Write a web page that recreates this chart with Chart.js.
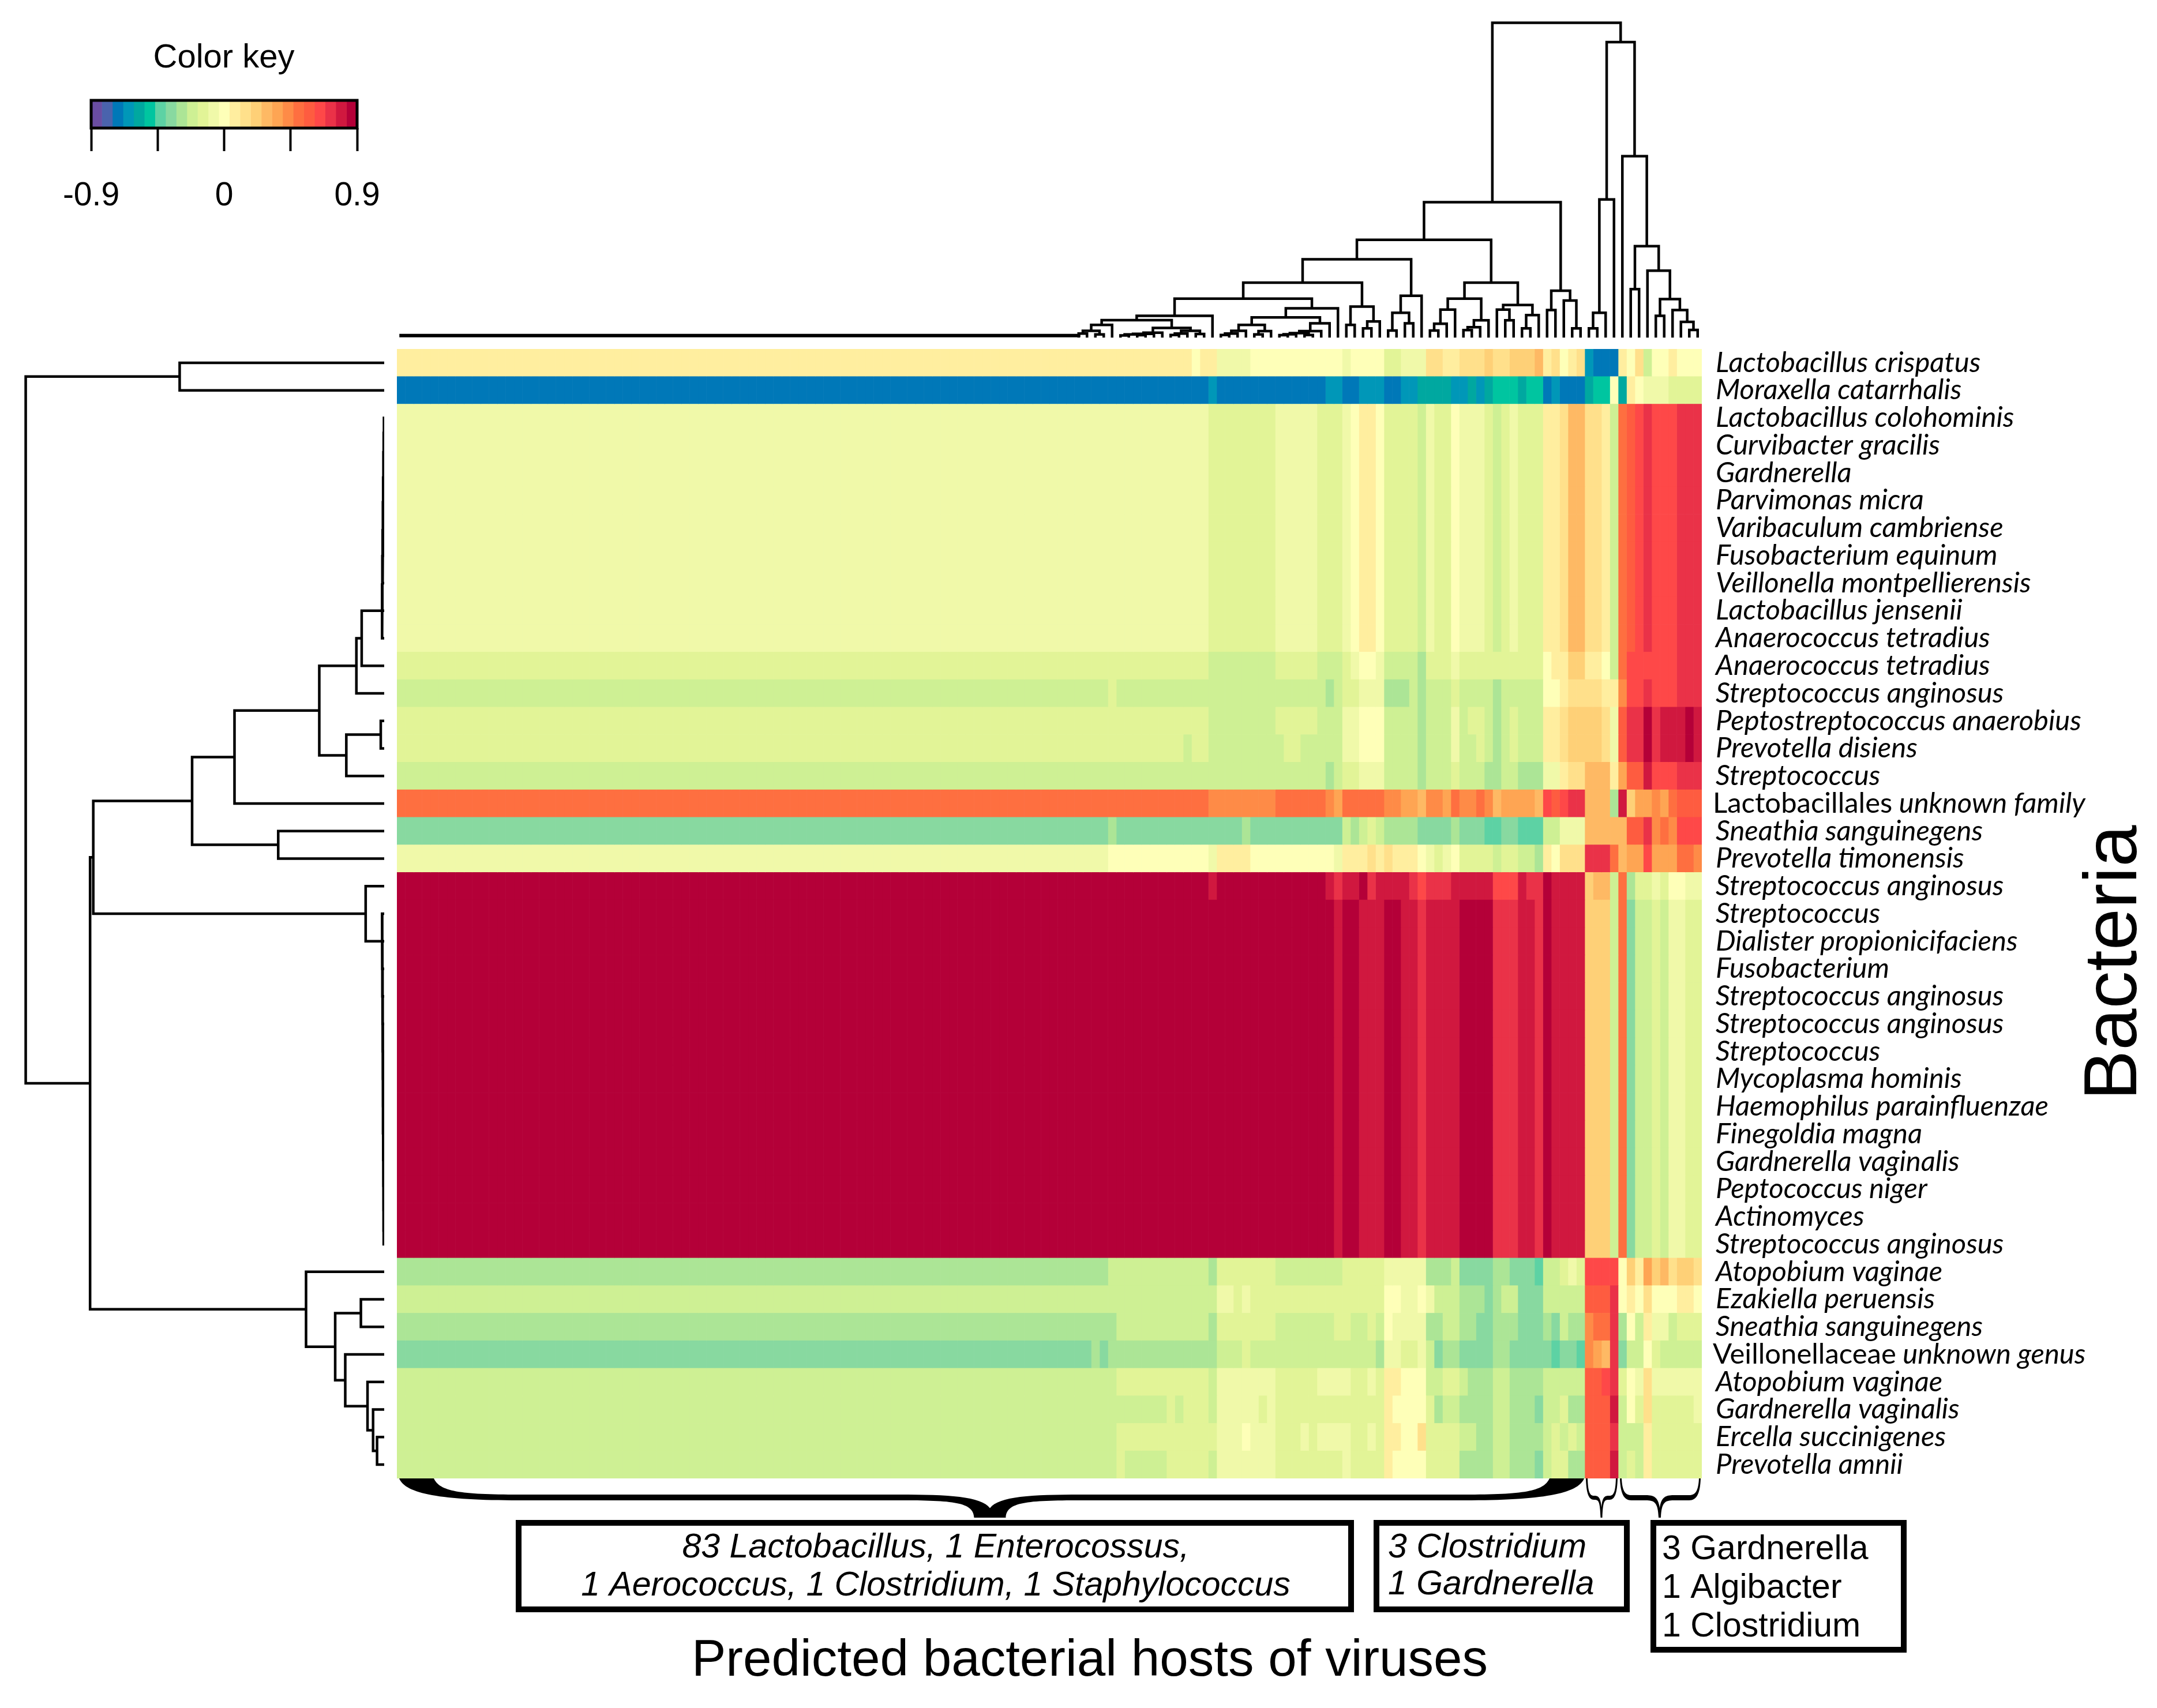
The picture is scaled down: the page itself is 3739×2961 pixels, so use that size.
<!DOCTYPE html>
<html><head><meta charset="utf-8">
<script src="https://cdn.jsdelivr.net/npm/chart.js@4/dist/chart.umd.min.js"></script>
<style>html,body{margin:0;padding:0;background:#fff;width:3739px;height:2961px;overflow:hidden}canvas{position:absolute;display:block}</style>
</head><body>
<canvas id="heat" width="3739" height="2961" style="left:0;top:0"></canvas>
<canvas id="colDendro" width="2262" height="600" style="left:688px;top:0"></canvas>
<canvas id="rowDendro" width="666" height="1958" style="left:0;top:605px"></canvas>
<canvas id="key" width="720" height="380" style="left:0;top:0"></canvas>
<script>
// ---------- colour key ----------
const keyColors=['#6a4da3','#4a63ad','#0078b8','#0097b8','#00a8a0','#00c5a0','#5dd2a4','#88d9a0','#ace596','#cef094','#e2f497','#f0f9a9','#feffb8','#ffee9f','#ffe08b','#fed077','#feb964','#fea553','#fe8b47','#fe6f40','#fe5c40','#fe4848','#ea3248','#d0183f','#b40038'];
const keyEdges=[-0.9,-0.828,-0.756,-0.684,-0.612,-0.54,-0.468,-0.396,-0.324,-0.252,-0.18,-0.108,-0.036,0.036,0.108,0.18,0.252,0.324,0.396,0.468,0.54,0.612,0.684,0.756,0.828,0.9];
const keyTicks=[-0.9,-0.45,0,0.45,0.9];
const keyTickLabels=['-0.9','','0','','0.9'];

// ---------- row labels ----------
const rowLabels=['Lactobacillus crispatus','Moraxella catarrhalis','Lactobacillus colohominis','Curvibacter gracilis','Gardnerella','Parvimonas micra','Varibaculum cambriense','Fusobacterium equinum','Veillonella montpellierensis','Lactobacillus jensenii','Anaerococcus tetradius','Anaerococcus tetradius','Streptococcus anginosus','Peptostreptococcus anaerobius','Prevotella disiens','Streptococcus','Lactobacillales unknown family','Sneathia sanguinegens','Prevotella timonensis','Streptococcus anginosus','Streptococcus','Dialister propionicifaciens','Fusobacterium','Streptococcus anginosus','Streptococcus anginosus','Streptococcus','Mycoplasma hominis','Haemophilus parainfluenzae','Finegoldia magna','Gardnerella vaginalis','Peptococcus niger','Actinomyces','Streptococcus anginosus','Atopobium vaginae','Ezakiella peruensis','Sneathia sanguinegens','Veillonellaceae unknown genus','Atopobium vaginae','Gardnerella vaginalis','Ercella succinigenes','Prevotella amnii'];
const mixedLabels={'Lactobacillales unknown family':['Lactobacillales',' unknown family'],'Veillonellaceae unknown genus':['Veillonellaceae',' unknown genus']};
const columnCount=156;

// ---------- heat values: colour-key level (0-24) held up to (not including) a column ----------
const rowCrispatus=[[13,95],[12,96],[13,98],[11,102],[12,113],[11,114],[12,118],[10,120],[11,123],[14,125],[13,127],[14,130],[15,131],[14,133],[15,136],[16,137],[13,138],[14,139],[12,140],[13,141],[14,142],[3,143],[2,146],[13,147],[12,148],[14,149],[9,150],[12,152],[13,153],[12,156]];
const rowMoraxella=[[2,97],[3,98],[2,111],[3,113],[2,115],[3,118],[2,120],[3,122],[4,126],[3,128],[4,129],[3,130],[4,131],[5,134],[4,135],[5,137],[2,138],[3,139],[2,142],[4,143],[5,145],[12,146],[4,147],[13,148],[12,149],[11,152],[10,156]];
const rowUpper=[[11,97],[10,105],[11,110],[10,113],[11,114],[12,115],[13,117],[12,118],[10,122],[9,123],[11,124],[10,126],[12,127],[11,130],[10,131],[9,132],[10,133],[11,134],[10,137],[13,139],[14,140],[16,142],[14,144],[13,145],[9,146],[19,147],[20,148],[21,149],[22,150],[21,153],[22,156]];
const rowAnaero2=[[10,97],[9,105],[10,110],[9,113],[10,114],[11,115],[12,117],[11,118],[9,122],[8,123],[10,126],[11,127],[10,137],[12,138],[13,140],[15,142],[13,144],[12,145],[9,146],[19,147],[21,153],[22,156]];
const rowStrepAng=[[9,85],[10,86],[9,111],[8,112],[9,113],[10,115],[11,118],[8,121],[9,122],[8,123],[9,126],[10,127],[9,131],[8,132],[9,137],[12,139],[13,140],[14,144],[13,146],[18,147],[21,149],[22,150],[21,153],[22,156]];
const rowPepto=[[10,97],[9,105],[10,110],[9,113],[11,115],[12,118],[9,122],[8,123],[9,126],[11,127],[9,128],[10,130],[9,131],[8,132],[9,133],[10,134],[9,137],[13,139],[14,140],[15,144],[14,145],[11,146],[20,147],[22,149],[24,150],[22,151],[23,154],[24,155],[23,156]];
const rowDisiens=[[10,94],[9,95],[10,97],[9,106],[10,108],[9,113],[11,115],[12,118],[9,122],[8,123],[9,126],[11,127],[9,129],[10,130],[9,131],[8,132],[9,133],[10,134],[9,137],[13,139],[14,140],[15,144],[14,145],[11,146],[20,147],[22,149],[24,150],[22,151],[23,154],[24,155],[23,156]];
const rowStrep=[[9,111],[8,112],[9,113],[10,115],[11,118],[9,122],[8,123],[9,126],[10,127],[9,130],[8,132],[9,134],[8,137],[11,139],[13,140],[14,142],[16,145],[13,146],[17,147],[20,149],[23,150],[21,153],[22,156]];
const rowLactobacillales=[[19,97],[18,105],[19,111],[18,112],[17,113],[19,118],[18,120],[17,122],[16,123],[18,125],[17,126],[19,127],[18,129],[19,130],[18,131],[16,132],[17,136],[16,137],[21,138],[20,139],[21,140],[22,142],[16,145],[8,146],[23,147],[15,148],[17,150],[18,151],[17,152],[19,153],[20,156]];
const rowSneathia=[[7,85],[8,86],[7,101],[8,102],[7,113],[9,114],[8,115],[9,116],[10,117],[9,118],[8,122],[7,126],[8,127],[7,130],[6,132],[7,134],[6,137],[9,139],[11,142],[16,147],[20,149],[22,150],[18,151],[19,152],[18,153],[21,156]];
const rowTimonensis=[[11,85],[12,97],[11,98],[13,102],[12,112],[11,113],[13,116],[14,117],[13,118],[14,119],[13,122],[12,123],[11,124],[10,125],[11,126],[12,127],[10,131],[9,132],[10,134],[9,136],[8,137],[13,138],[12,139],[14,142],[22,145],[19,146],[16,147],[17,149],[21,150],[17,153],[19,155],[18,156]];
const rowRedTop=[[24,97],[23,98],[24,111],[23,112],[22,113],[23,115],[24,116],[22,117],[23,121],[22,122],[21,123],[22,126],[23,131],[21,134],[23,135],[22,137],[24,138],[23,142],[15,143],[16,145],[9,146],[19,147],[8,148],[10,150],[11,151],[10,152],[12,154],[11,156]];
const rowRed=[[24,112],[23,113],[24,115],[23,118],[24,120],[23,122],[22,123],[23,127],[24,131],[22,134],[23,136],[22,137],[24,138],[23,142],[15,145],[9,146],[19,147],[7,148],[9,150],[10,151],[9,152],[11,154],[10,156]];
const rowAtopobium1=[[8,85],[9,97],[8,98],[10,105],[9,113],[10,118],[11,123],[8,126],[9,127],[7,131],[8,133],[7,136],[6,137],[9,139],[10,140],[11,141],[10,142],[21,146],[12,147],[15,148],[13,149],[17,150],[15,151],[16,152],[14,153],[15,155],[14,156]];
const rowEzakiella=[[9,98],[11,100],[10,101],[11,102],[10,118],[12,120],[11,122],[12,123],[11,124],[9,127],[8,130],[7,131],[8,132],[9,134],[7,137],[9,142],[20,145],[22,146],[12,147],[13,148],[12,149],[14,150],[12,153],[13,155],[12,156]];
const rowSneathia2=[[8,86],[9,97],[8,98],[10,105],[9,112],[10,114],[9,116],[10,117],[9,118],[12,119],[11,123],[8,125],[9,127],[8,129],[7,131],[8,134],[7,137],[8,138],[7,139],[9,140],[8,142],[18,143],[19,145],[22,146],[8,147],[12,148],[9,149],[13,150],[11,152],[9,153],[10,156]];
const rowVeillonellaceae=[[7,83],[8,84],[7,85],[8,98],[9,101],[10,102],[9,117],[8,118],[11,120],[10,122],[11,123],[9,124],[7,125],[8,127],[7,131],[8,133],[7,138],[6,139],[7,141],[6,142],[18,143],[17,144],[16,145],[22,146],[7,147],[9,149],[12,150],[10,151],[9,156]];
const rowAtopobium2=[[9,86],[10,97],[9,98],[11,105],[10,110],[11,114],[10,116],[11,117],[10,118],[13,120],[12,123],[9,125],[10,127],[9,128],[8,131],[9,133],[8,137],[9,142],[20,144],[21,145],[22,146],[10,147],[12,148],[11,149],[14,150],[11,156]];
const rowGardVag=[[9,92],[10,93],[9,94],[10,97],[9,98],[11,103],[10,104],[11,105],[10,118],[13,119],[12,123],[10,124],[8,125],[9,127],[8,131],[9,133],[8,136],[7,137],[9,139],[10,140],[8,142],[20,145],[23,146],[9,147],[12,148],[10,149],[14,150],[10,155],[11,156]];
const rowErcella=[[9,86],[10,98],[11,101],[12,102],[11,105],[10,108],[11,109],[10,110],[11,114],[10,116],[11,117],[10,118],[13,120],[12,122],[14,123],[10,127],[9,129],[8,131],[9,133],[8,137],[9,138],[10,139],[9,140],[10,141],[9,142],[20,145],[22,146],[9,149],[13,150],[10,156]];
const rowAmnii=[[9,86],[10,87],[9,92],[10,97],[9,98],[11,105],[10,113],[11,114],[10,118],[13,119],[12,123],[10,127],[8,131],[9,133],[8,136],[7,137],[9,138],[10,140],[8,142],[20,145],[23,146],[9,147],[10,148],[9,149],[13,150],[10,156]];
const rowOrder=[rowCrispatus,rowMoraxella,rowUpper,rowUpper,rowUpper,rowUpper,rowUpper,rowUpper,rowUpper,rowUpper,rowUpper,rowAnaero2,rowStrepAng,rowPepto,rowDisiens,rowStrep,rowLactobacillales,rowSneathia,rowTimonensis,rowRedTop,rowRed,rowRed,rowRed,rowRed,rowRed,rowRed,rowRed,rowRed,rowRed,rowRed,rowRed,rowRed,rowRed,rowAtopobium1,rowEzakiella,rowSneathia2,rowVeillonellaceae,rowAtopobium2,rowGardVag,rowErcella,rowAmnii];

// ---------- dendrograms: node = [height, left, right], leaf = column / row number ----------
const colTree=[1375,
 [588,
  [423,
   [338,
    [235,
     [165,
      [90,[71,[50,[24,[12,81,82],[8,83,84]],85],[37,[16,[11,[8,[4,86,87],[5,88,89]],90],91],[24,[12,[6,92,93],94],[10,95,96]]]],97],
      [123,[83,[50,[24,[12,[6,98,99],100],101],[23,[8,102,103],104]],[57,[23,[14,[9,[5,105,106],107],[6,108,109]],110],111]],112]],
     [130,[50,113,114],[65,[35,115,116],117]]],
    [178,[103,[25,118,119],[57,120,121]],122]],
   [235,
    [165,[117,[55,[25,123,124],125],126],[70,[40,[27,127,128],129],130]],
    [137,[117,131,[70,132,133]],[93,[35,134,135],136]]]],
  [200,[115,137,138],[157,139,[35,140,141]]]],
 [1290,
  [600,[103,[35,142,143],144],145],
  [790,146,[395,[207,147,148],[288,149,[163,[90,150,151],[115,152,[63,153,[28,154,155]]]]]]]]];
const colLadderEnd=81;
const colLadderHeight=3;

const rowTree=[1353,
 [772,0,1],
 [1110,
  [1098,
   [725,
    [565,
     [245,
      [105,[85,[8,[7,[6,[5,[4,[3,[2,[1,2,3],4],5],6],7],8],9],10],11],12],
      [143,[13,13,14],15]],
     16],
    [400,17,18]],
   [70,19,[8,20,[7,21,[6.5,22,[6,23,[5.5,24,[5,25,[4.5,26,[4,27,[3.5,28,[3,29,[2.5,30,[2,31,32]]]]]]]]]]]]]],
  [295,33,[185,[88,34,35],[147,36,[63,37,[42,38,[27,39,40]]]]]]]];

// ---------- annotation text ----------
const keyTitle='Color key';
const hostBoxes=[
 {lines:['83 Lactobacillus, 1 Enterocossus,','1 Aerococcus, 1 Clostridium, 1 Staphylococcus'],italic:true},
 {lines:['3 Clostridium','1 Gardnerella'],italic:true},
 {lines:['3 Gardnerella','1 Algibacter','1 Clostridium'],italic:false}];
const xTitle='Predicted bacterial hosts of viruses';
const yTitle='Bacteria';

// ---------- helpers ----------
function expandRuns(runs){const out=[];let c=0;runs.forEach(([lvl,end])=>{while(c<end){out.push(lvl);c++;}});return out;}
function dendroSegments(tree){const segs=[];(function walk(n){if(typeof n==='number')return{p:n+0.5,h:0};const A=walk(n[1]),B=walk(n[2]);segs.push([A,B,n[0]]);return{p:(A.p+B.p)/2,h:n[0]};})(tree);return segs;}

Chart.defaults.animation=false;
Chart.defaults.responsive=false;
Chart.defaults.maintainAspectRatio=false;
Chart.defaults.devicePixelRatio=1;
Chart.defaults.plugins.legend.display=false;
Chart.defaults.plugins.tooltip.enabled=false;

// ---------- heatmap ----------
const rowLevels=rowOrder.map(expandRuns);
const colDatasets=[];
for(let c=0;c<columnCount;c++){
  colDatasets.push({label:'column '+(c+1),data:rowLevels.map(()=>1),backgroundColor:rowLevels.map(r=>keyColors[r[c]]),borderWidth:0,barPercentage:1,categoryPercentage:1,stack:'s'});
}
const LABEL_FONT='italic 49px Lato';
function drawText(ctx,t,x,y,font,align){ctx.font=font;ctx.textAlign=align||'left';ctx.textBaseline='middle';ctx.fillStyle='#000';ctx.fillText(t,x,y);}
function drawBrace(ctx,x0,xc,x1,top,flatTop,flatBot,tip,w,r,rc,tw){
  ctx.beginPath();
  ctx.moveTo(x0,top);
  ctx.bezierCurveTo(x0+r*0.05,flatBot-(flatBot-top)*0.3,x0+r*0.35,flatBot,x0+r,flatBot);
  ctx.lineTo(xc-rc,flatBot);
  ctx.bezierCurveTo(xc-rc*0.4,flatBot,xc-tw/2-1,flatBot+(tip-flatBot)*0.1,xc-tw/2,tip);
  ctx.lineTo(xc+tw/2,tip);
  ctx.bezierCurveTo(xc+tw/2+1,flatBot+(tip-flatBot)*0.1,xc+rc*0.4,flatBot,xc+rc,flatBot);
  ctx.lineTo(x1-r,flatBot);
  ctx.bezierCurveTo(x1-r*0.35,flatBot,x1-r*0.05,flatBot-(flatBot-top)*0.3,x1,top);
  ctx.lineTo(x1-w,top);
  ctx.bezierCurveTo(x1-w-r*0.05,flatTop-(flatTop-top)*0.2,x1-r*0.5,flatTop,x1-r,flatTop);
  ctx.lineTo(xc+rc,flatTop);
  ctx.bezierCurveTo(xc+rc*0.45,flatTop,xc+rc*0.1,flatTop+3,xc,flatBot+(tip-flatBot)*0.45);
  ctx.bezierCurveTo(xc-rc*0.1,flatTop+3,xc-rc*0.45,flatTop,xc-rc,flatTop);
  ctx.lineTo(x0+r,flatTop);
  ctx.bezierCurveTo(x0+r*0.5,flatTop,x0+w+r*0.05,flatTop-(flatTop-top)*0.2,x0+w,top);
  ctx.closePath();ctx.fillStyle='#000';ctx.fill();
}
const annotate={id:'annotate',afterDraw(chart){
  const ctx=chart.ctx,ys=chart.scales.y;ctx.save();
  // mixed-style row labels
  rowLabels.forEach((lab,i)=>{const m=mixedLabels[lab];if(!m)return;
    const y=ys.getPixelForValue(i),x=2969;
    drawText(ctx,m[0],x,y,'49px Lato');const w=ctx.measureText(m[0]).width;
    drawText(ctx,m[1],x+w,y,LABEL_FONT);});
  // braces
  drawBrace(ctx,692,1716,2746,2563,2591,2601,2631,60,208,158,55);
  drawBrace(ctx,2749,2776,2804,2563,2593,2600,2631,3,14,12,3);
  drawBrace(ctx,2808,2877,2948,2563,2592,2601,2631,3,20,24,4);
  // boxes
  ctx.strokeStyle='#000';ctx.lineWidth=10;
  ctx.strokeRect(899,2640,1443,150);
  ctx.strokeRect(2386,2640,434,150);
  ctx.strokeRect(2866,2640,434,220);
  // box text
  const b=hostBoxes;
  drawText(ctx,b[0].lines[0],1622,2684,'italic 59px "Liberation Sans"','center');
  drawText(ctx,b[0].lines[1],1622,2750,'italic 59px "Liberation Sans"','center');
  drawText(ctx,b[1].lines[0],2406,2684,'italic 59px "Liberation Sans"');
  drawText(ctx,b[1].lines[1],2406,2748,'italic 59px "Liberation Sans"');
  drawText(ctx,b[2].lines[0],2881,2687,'59px "Liberation Sans"');
  drawText(ctx,b[2].lines[1],2881,2754,'59px "Liberation Sans"');
  drawText(ctx,b[2].lines[2],2881,2821,'59px "Liberation Sans"');
  // titles
  drawText(ctx,xTitle,1889,2880,'89px "Liberation Sans"','center');
  ctx.translate(3667,1669);ctx.rotate(-Math.PI/2);
  drawText(ctx,yTitle,0,0,'130px "Liberation Sans"','center');
  ctx.restore();
}};
new Chart(document.getElementById('heat'),{type:'bar',
  data:{labels:rowLabels,datasets:colDatasets},
  options:{indexAxis:'y',
    layout:{padding:{left:688,top:605,right:119,bottom:398}},
    scales:{
      x:{type:'linear',stacked:true,min:0,max:columnCount,display:false},
      y:{type:'category',stacked:true,position:'right',
         grid:{display:false,drawTicks:false},border:{display:false},
         afterFit(s){s.width=670;},
         ticks:{autoSkip:false,maxRotation:0,minRotation:0,padding:24,color:'#000',font:{family:'Lato',style:'italic',size:49},
           callback(v){const l=rowLabels[v];return mixedLabels[l]?'':l;}}}
    }},
  plugins:[annotate]});

// ---------- dendrograms ----------
const lineStyle={showLine:true,pointRadius:0,borderColor:'#000',borderWidth:4.5,tension:0,spanGaps:false,clip:false,borderJoinStyle:'miter',borderCapStyle:'square'};
const colPts=[];
dendroSegments(colTree).forEach(([A,B,h])=>{colPts.push({x:A.p,y:A.h},{x:A.p,y:h},{x:B.p,y:h},{x:B.p,y:B.h},{x:NaN,y:NaN});});
new Chart(document.getElementById('colDendro'),{type:'scatter',
  data:{datasets:[{...lineStyle,data:colPts},{...lineStyle,borderWidth:6,data:[{x:0.5,y:colLadderHeight},{x:colLadderEnd+0.5,y:colLadderHeight}]}]},
  options:{layout:{padding:{bottom:17}},scales:{x:{type:'linear',min:0,max:columnCount,display:false},y:{type:'linear',min:0,max:1475,display:false}}}});
const rowPts=[];
dendroSegments(rowTree).forEach(([A,B,h])=>{rowPts.push({x:A.h,y:A.p},{x:h,y:A.p},{x:h,y:B.p},{x:B.h,y:B.p},{x:NaN,y:NaN});});
new Chart(document.getElementById('rowDendro'),{type:'scatter',
  data:{datasets:[{...lineStyle,data:rowPts}]},
  options:{scales:{x:{type:'linear',reverse:true,min:0,max:1450,display:false},y:{type:'linear',reverse:true,min:0,max:rowLabels.length,display:false}}}});

// ---------- colour key ----------
const keyFrame={id:'keyFrame',afterDraw(chart){const c=chart.ctx,a=chart.chartArea;c.save();c.strokeStyle='#000';c.lineWidth=5;c.strokeRect(a.left,a.top,a.right-a.left,a.bottom-a.top);
  drawText(c,keyTitle,388,101,'58px "Liberation Sans"','center');c.restore();}};
new Chart(document.getElementById('key'),{type:'bar',
  data:{labels:['key'],datasets:keyColors.map((col,i)=>({label:'bin '+i,data:[[keyEdges[i],keyEdges[i+1]]],backgroundColor:col,borderWidth:0,barPercentage:1,categoryPercentage:1,grouped:false}))},
  options:{indexAxis:'y',layout:{padding:{left:158,right:101,top:174,bottom:0}},
    scales:{
      y:{display:false,type:'category'},
      x:{type:'linear',min:-0.9,max:0.9,afterFit(s){s.height=158;},
         afterBuildTicks(s){s.ticks=keyTicks.map(v=>({value:v}));},
         border:{display:false},
         grid:{drawOnChartArea:false,drawTicks:true,tickLength:40,tickWidth:4,tickColor:'#000'},
         ticks:{autoSkip:false,maxRotation:0,minRotation:0,padding:44,color:'#000',font:{family:'Liberation Sans',size:57},
           callback(v){const i=keyTicks.indexOf(v);return i<0?'':keyTickLabels[i];}}}
    }},
  plugins:[keyFrame]});
</script>
</body></html>
